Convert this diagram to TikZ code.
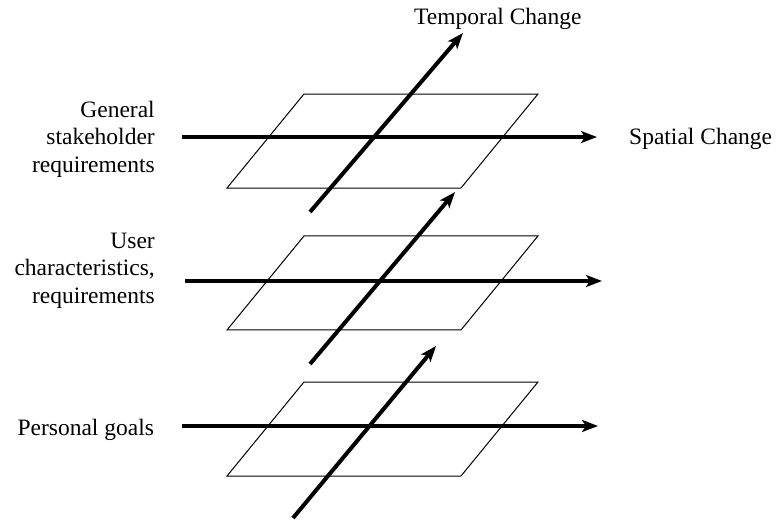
\documentclass[tikz,border=0pt]{standalone}
\usepackage{fontspec}
\setmainfont{Liberation Serif}
\usetikzlibrary{arrows.meta,positioning}

\tikzset{
  plane/.style={line width=0.5pt},
  change/.style={line width=2pt, -{Stealth[length=8pt,width=6pt,inset=2pt]}},
  layer/.style={align=right, anchor=east},
}

\begin{document}
\begin{tikzpicture}[font=\fontsize{11.75}{13.75}\selectfont]
  \useasboundingbox (0,0) rectangle (13.672,9.138);

  % top layer
  \draw [plane] (3.989,5.834) -- (8.101,5.834) -- (9.454,7.486) -- (5.342,7.486) -- cycle;

  \coordinate (h1) at (3.198,6.730);
  \coordinate (h1e) at (10.491,6.730);
  \draw [change] (h1) -- (h1e);

  \coordinate (d1) at (5.448,5.413);
  \coordinate (d1e) at (8.136,8.558);
  \draw [change] (d1) -- (d1e);

  \node [layer] (general) at (2.844,6.695) {General\\stakeholder\\requirements};
  \node [anchor=base west] (spatial) at (10.933,6.590) {Spatial Change};
  \node [anchor=base west] (temporal) at (7.155,8.699) {Temporal Change};

  %%

  % middle layer
  \draw [plane] (3.989,3.339) -- (8.101,3.339) -- (9.454,4.991) -- (5.342,4.991) -- cycle;

  \coordinate (h2) at (3.251,4.200);
  \coordinate (h2e) at (10.579,4.200);
  \draw [change] (h2) -- (h2e);

  \coordinate (d2) at (5.448,2.741);
  \coordinate (d2e) at (7.996,5.764);
  \draw [change] (d2) -- (d2e);

  \node [layer] (user) at (2.844,4.384) {User\\characteristics,\\requirements};

  %%

  % bottom layer
  \draw [plane] (3.989,0.773) -- (8.101,0.773) -- (9.454,2.425) -- (5.342,2.425) -- cycle;

  \coordinate (h3) at (3.198,1.652);
  \coordinate (h3e) at (10.509,1.652);
  \draw [change] (h3) -- (h3e);

  \coordinate (d3) at (5.149,0.035);
  \coordinate (d3e) at (7.662,3.058);
  \draw [change] (d3) -- (d3e);

  \node [layer] (personal) at (2.830,1.590) {Personal goals};

\end{tikzpicture}
\end{document}
